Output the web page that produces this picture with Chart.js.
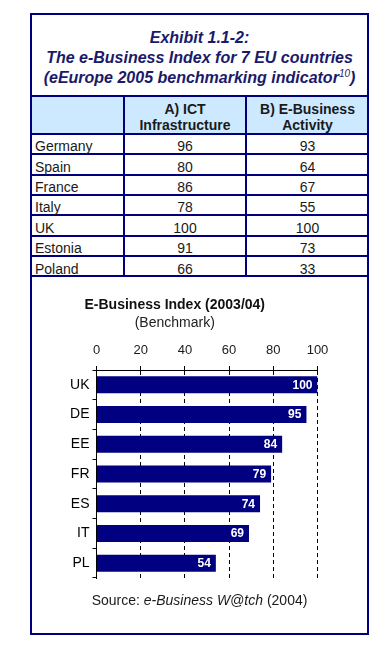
<!DOCTYPE html>
<html>
<head>
<meta charset="utf-8">
<script src="https://cdn.jsdelivr.net/npm/chart.js@4.4.1/dist/chart.umd.min.js"></script>
<style>
  html, body { margin:0; padding:0; background:#fff; width:383px; height:650px; overflow:hidden;
    font-family:"Liberation Sans", Arial, sans-serif; }
  #page { position:relative; width:383px; height:650px; }
  .abs { position:absolute; }
  .box { left:30px; top:13px; width:339px; height:622px; border:2px solid #00007f; box-sizing:border-box; }
  .hl { height:2px; background:#00007f; }
  .vl { width:2px; background:#00007f; }
  .t { position:absolute; white-space:nowrap; height:20px; line-height:20px; font-size:14px; color:#1a1a1a; }
  .title { left:32px; width:335px; text-align:center; font-weight:bold; font-style:italic; color:#1a1a6a; font-size:16px; }
  .title sup { font-size:10px; font-weight:normal; vertical-align:6px; line-height:0; }
  .hdr { font-weight:bold; text-align:center; width:120px; }
  .num { text-align:center; width:120px; }
  #src { left:32px; width:335px; text-align:center; color:#1a1a1a; }
  canvas { position:absolute; left:32px; top:278px; }
</style>
</head>
<body>
<div id="page">
  <div class="abs box"></div>
  <div class="t title" style="top:28px">Exhibit 1.1-2:</div>
  <div class="t title" style="top:48px">The e-Business Index for 7 EU countries</div>
  <div class="t title" style="top:68px">(eEurope 2005 benchmarking indicator<sup>10</sup>)</div>
  <div id="table"></div>
  <canvas id="c" width="335" height="314"></canvas>
  <div class="t" id="src" style="top:590px">Source: <i>e-Business W@tch</i> (2004)</div>
</div>
<script>
// ---- data ----
const tableCountries = ['Germany', 'Spain', 'France', 'Italy', 'UK', 'Estonia', 'Poland'];
const ictInfrastructure = [96, 80, 86, 78, 100, 91, 66];
const eBusinessActivity = [93, 64, 67, 55, 100, 73, 33];
const headerICT = ['A) ICT', 'Infrastructure'];
const headerEBiz = ['B) E-Business', 'Activity'];

const chartLabels = ['UK', 'DE', 'EE', 'FR', 'ES', 'IT', 'PL'];
const chartValues = [100, 95, 84, 79, 74, 69, 54];
const xTickMin = 0, xTickMax = 100, xTickStep = 20;

const chartTitle = 'E-Business Index (2003/04)';
const chartSubtitle = '(Benchmark)';

// ---- table (HTML) ----
(function buildTable() {
  const root = document.getElementById('table');
  const add = (cls, style, html) => {
    const d = document.createElement('div');
    d.className = cls; d.setAttribute('style', style);
    if (html !== undefined) d.innerHTML = html;
    root.appendChild(d);
  };
  const rowTop0 = 133, rowH = 20.35;
  add('abs', 'left:32px;top:97px;width:335px;height:36px;background:#cce9ff;');
  add('abs hl', 'left:32px;top:95px;width:335px;');
  for (let i = 0; i <= tableCountries.length; i++) {
    add('abs hl', 'left:32px;top:' + Math.round(rowTop0 + i * rowH) + 'px;width:335px;');
  }
  const bottom = Math.round(rowTop0 + tableCountries.length * rowH) + 2;
  add('abs vl', 'left:123px;top:95px;height:' + (bottom - 95) + 'px;');
  add('abs vl', 'left:245px;top:95px;height:' + (bottom - 95) + 'px;');
  const c1 = 185, c2 = 307.5;
  add('t hdr', 'left:' + (c1 - 60) + 'px;top:98.7px;', headerICT[0]);
  add('t hdr', 'left:' + (c1 - 60) + 'px;top:115px;', headerICT[1]);
  add('t hdr', 'left:' + (c2 - 60) + 'px;top:98.7px;', headerEBiz[0]);
  add('t hdr', 'left:' + (c2 - 60) + 'px;top:115px;', headerEBiz[1]);
  tableCountries.forEach((name, i) => {
    const cy = rowTop0 + i * rowH + 2 + (rowH - 2) / 2 + 2.2;
    const top = (cy - 10).toFixed(1);
    add('t', 'left:35px;top:' + top + 'px;', name);
    add('t num', 'left:' + (c1 - 60) + 'px;top:' + top + 'px;', String(ictInfrastructure[i]));
    add('t num', 'left:' + (c2 - 60) + 'px;top:' + top + 'px;', String(eBusinessActivity[i]));
  });
})();

// ---- chart ----
const FONT = '"Liberation Sans", Arial, sans-serif';
const NARROW = '"Liberation Sans Narrow", "Arial Narrow", "Liberation Sans", Arial, sans-serif';
Chart.defaults.font.family = FONT;

const valueLabels = {
  id: 'valueLabels',
  afterDatasetsDraw(chart) {
    const ctx = chart.ctx;
    const meta = chart.getDatasetMeta(0);
    ctx.save();
    ctx.font = 'bold 12px ' + FONT;
    ctx.fillStyle = '#ffffff';
    ctx.textAlign = 'right';
    ctx.textBaseline = 'middle';
    meta.data.forEach((bar, i) => {
      ctx.fillText(String(chartValues[i]), bar.x - 5, bar.y + 0.5);
    });
    ctx.restore();
  }
};

new Chart(document.getElementById('c'), {
  type: 'bar',
  data: {
    labels: chartLabels,
    datasets: [{
      data: chartValues,
      backgroundColor: '#000080',
      borderWidth: 0,
      barPercentage: 0.572,
      categoryPercentage: 1.0
    }]
  },
  plugins: [valueLabels],
  options: {
    indexAxis: 'y',
    responsive: false,
    animation: false,
    devicePixelRatio: 1,
    layout: { padding: { top: 0, left: 0, right: 49.5, bottom: 14 } },
    plugins: {
      legend: { display: false },
      tooltip: { enabled: false },
      title: {
        display: true, text: chartTitle, color: '#111',
        font: { size: 14, weight: 'bold', lineHeight: 1.2 },
        padding: { top: 18.6, bottom: 0 }
      },
      subtitle: {
        display: true, text: chartSubtitle, color: '#222',
        font: { size: 14, weight: 'normal', lineHeight: 1.2 },
        padding: { top: 1.2, bottom: 0 }
      }
    },
    scales: {
      x: {
        position: 'top',
        min: xTickMin, max: xTickMax,
        ticks: { stepSize: xTickStep, color: '#1a1a1a', font: { size: 13 }, padding: 8 },
        grid: { color: '#000', lineWidth: 1, tickLength: 4, tickColor: '#000', tickBorderDash: [] },
        border: { display: true, color: '#000', width: 1, dash: [4, 3] },
        afterFit(scale) { scale.height = 38.6; }
      },
      y: {
        position: 'left',
        ticks: { color: '#000', font: { size: 14, family: NARROW }, padding: 3 },
        grid: { drawOnChartArea: false, color: '#000', tickLength: 4, tickColor: '#000' },
        border: { display: true, color: '#000', width: 1 },
        afterFit(scale) { scale.width = 64.5; }
      }
    }
  }
});
</script>
</body>
</html>
